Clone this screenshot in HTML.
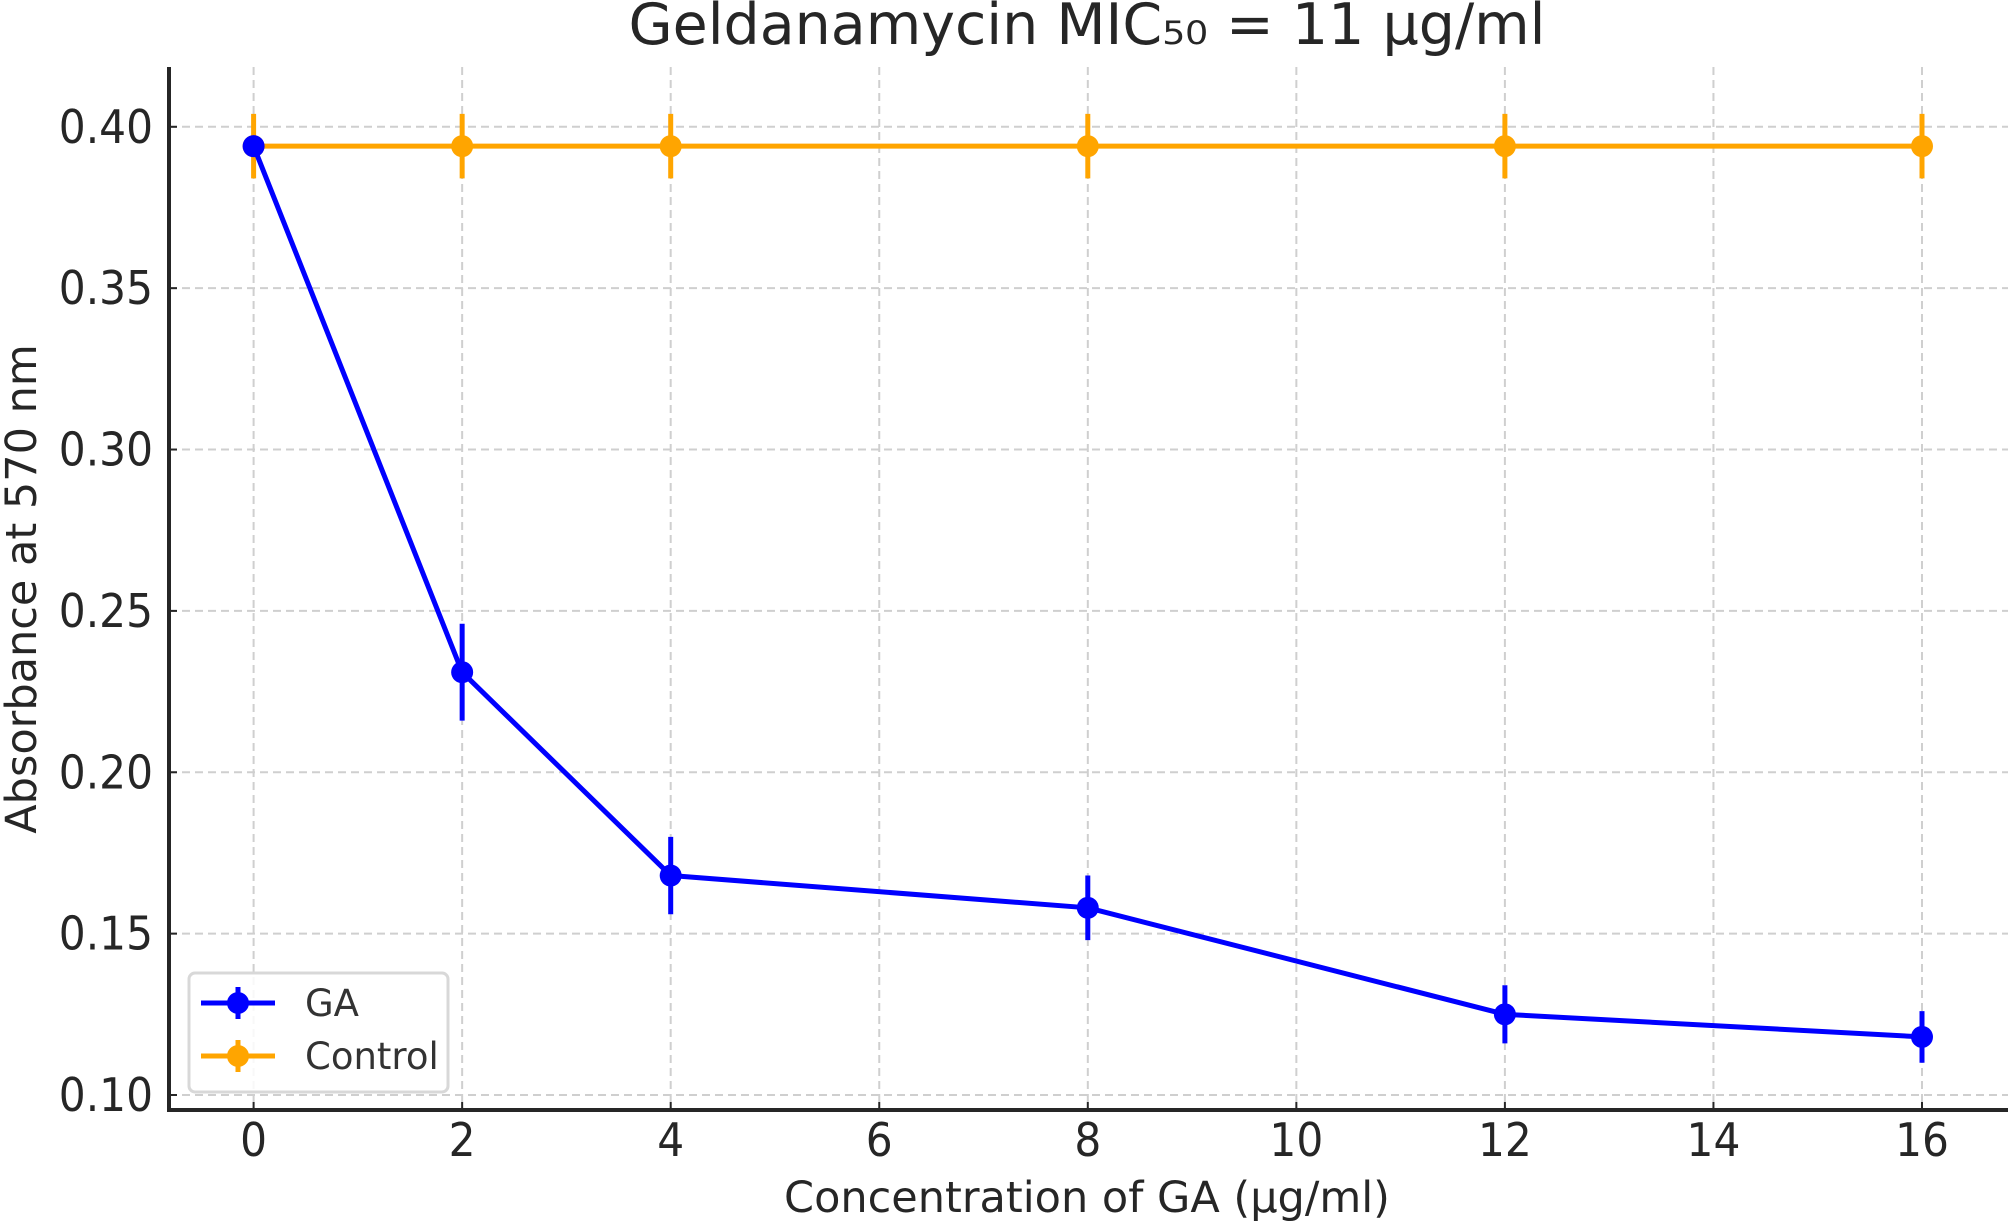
<!DOCTYPE html>
<html><head><meta charset="utf-8"><style>
html,body{margin:0;padding:0;background:#fff;}
svg{display:block;font-family:"DejaVu Sans","Liberation Sans",sans-serif;}
</style></head><body>
<svg id="chart" width="2008" height="1224" viewBox="0 0 2008 1224">
<text x="1087" y="44" font-size="57" text-anchor="middle" fill="#262626">Geldanamycin MIC₅₀ = 11 µg/ml</text>
<g id="grid"></g>
<g id="axes"></g>
<g id="series"></g>
<text x="1087" y="1212" font-size="43" text-anchor="middle" fill="#262626">Concentration of GA (µg/ml)</text>
<text transform="translate(36,589) rotate(-90)" font-size="43" text-anchor="middle" fill="#262626">Absorbance at 570 nm</text>
<g>
<rect x="189" y="973" width="259" height="119" rx="6" fill="#fff" fill-opacity="0.85" stroke="#d8d8d8" stroke-width="3"/>
<g>
<line x1="201" y1="1003" x2="275" y2="1003" stroke="#0000ff" stroke-width="5"/>
<line x1="238" y1="987" x2="238" y2="1019" stroke="#0000ff" stroke-width="5"/>
<circle cx="238" cy="1003" r="11" fill="#0000ff"/>
<text x="305" y="1016" font-size="37" fill="#333">GA</text>
</g>
<g>
<line x1="201" y1="1056" x2="275" y2="1056" stroke="#ffa500" stroke-width="5"/>
<line x1="238" y1="1040" x2="238" y2="1072" stroke="#ffa500" stroke-width="5"/>
<circle cx="238" cy="1056" r="11" fill="#ffa500"/>
<text x="305" y="1069" font-size="37" fill="#333">Control</text>
</g>
</g>
</svg>
<script>
const concentrations = [0, 2, 4, 8, 12, 16];
const gaValues = [0.394, 0.231, 0.168, 0.158, 0.125, 0.118];
const gaErrors = [0.0, 0.015, 0.012, 0.010, 0.009, 0.008];
const controlValues = [0.394, 0.394, 0.394, 0.394, 0.394, 0.394];
const controlErrors = [0.010, 0.010, 0.010, 0.010, 0.010, 0.010];
const xTicks = [0, 2, 4, 6, 8, 10, 12, 14, 16];
const yTicks = [0.10, 0.15, 0.20, 0.25, 0.30, 0.35, 0.40];

const NS = "http://www.w3.org/2000/svg";
const L = 169, R = 2008, T = 67, B = 1110;
function xs(v){ return 253.6 + (v - 0) * (1922 - 253.6) / 16; }
function ys(v){ return 1095 + (v - 0.10) * (126.8 - 1095) / 0.30; }
function mk(tag, attrs, parent){
  const el = document.createElementNS(NS, tag);
  for (const k in attrs) el.setAttribute(k, attrs[k]);
  parent.appendChild(el);
  return el;
}
const grid = document.getElementById('grid');
const axes = document.getElementById('axes');
const series = document.getElementById('series');

xTicks.forEach(t => {
  const x = xs(t);
  const g = mk('line', {x1:x, y1:T, x2:x, y2:B, stroke:'#cfcfcf', 'stroke-width':2, 'stroke-dasharray':'8 5'}, grid);
  
  
  const tk = mk('line', {x1:x, y1:B, x2:x, y2:B-8, stroke:'#262626', 'stroke-width':2}, axes);
  
  
  const lb = mk('text', {transform:'translate(' + x + ',1156) scale(0.92,1)', 'font-size':46, 'text-anchor':'middle', fill:'#262626'}, axes);
  lb.textContent = t;
  
  
});
yTicks.forEach(t => {
  const y = ys(t);
  const g = mk('line', {x1:L, y1:y, x2:R, y2:y, stroke:'#cfcfcf', 'stroke-width':2, 'stroke-dasharray':'8 5'}, grid);
  
  
  const tk = mk('line', {x1:L, y1:y, x2:L+8, y2:y, stroke:'#262626', 'stroke-width':2}, axes);
  
  
  const lb = mk('text', {transform:'translate(' + (L-16) + ',' + (y+16) + ') scale(0.92,1)', 'font-size':46, 'text-anchor':'end', fill:'#262626'}, axes);
  lb.textContent = t.toFixed(2);
  
  
});
const ax1 = mk('line', {x1:L, y1:T, x2:L, y2:B+2, stroke:'#262626', 'stroke-width':4}, axes);


const ax2 = mk('line', {x1:L-2, y1:B, x2:R, y2:B, stroke:'#262626', 'stroke-width':4}, axes);



function drawSeries(vals, errs, color, name){
  const g = mk('g', {}, series);
  
  
  const pts = vals.map((v,i) => xs(concentrations[i]) + ',' + ys(v)).join(' ');
  const pl = mk('polyline', {points:pts, fill:'none', stroke:color, 'stroke-width':5, 'stroke-linejoin':'round'}, g);
  
  
  vals.forEach((v,i) => {
    const x = xs(concentrations[i]);
    if (errs[i] > 0) {
      const e = mk('line', {x1:x, y1:ys(v-errs[i]), x2:x, y2:ys(v+errs[i]), stroke:color, 'stroke-width':5}, g);
      
      
    }
    const c = mk('circle', {cx:x, cy:ys(v), r:11, fill:color}, g);
    
    
  });
}
drawSeries(controlValues, controlErrors, '#ffa500', 'control');
drawSeries(gaValues, gaErrors, '#0000ff', 'ga');
</script>
</body></html>
